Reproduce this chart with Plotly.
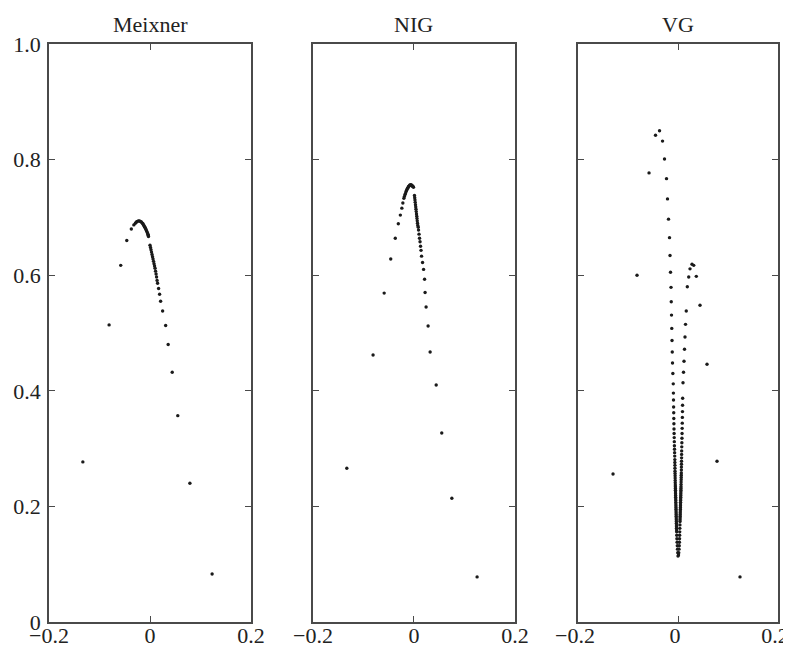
import plotly.graph_objects as go

titles = ["Meixner", "NIG", "VG"]
x_ticks = [-0.2, 0, 0.2]
x_ticktext = ["\u22120.2", "0", "0.2"]
y_ticks = [0, 0.2, 0.4, 0.6, 0.8, 1.0]
y_ticktext = ["0", "0.2", "0.4", "0.6", "0.8", "1.0"]

meixner_x = [-0.133, -0.081, -0.058, -0.046, -0.037,
             -0.032, -0.029, -0.027, -0.025, -0.023, -0.021, -0.019, -0.017, -0.015, -0.014,
             -0.013, -0.012, -0.011, -0.010, -0.009, -0.008, -0.007, -0.006, -0.005, -0.004,
             -0.0035, -0.003,
             0.000, 0.001, 0.002, 0.003, 0.004, 0.005, 0.006, 0.007, 0.008, 0.009, 0.010,
             0.011, 0.012, 0.013, 0.014, 0.015, 0.017, 0.019, 0.021, 0.025, 0.031, 0.036,
             0.044, 0.055, 0.079, 0.123]
meixner_y = [0.277, 0.514, 0.617, 0.660, 0.680,
             0.687, 0.690, 0.692, 0.693, 0.694, 0.694, 0.693, 0.692, 0.690, 0.689,
             0.687, 0.686, 0.684, 0.683, 0.681, 0.679, 0.677, 0.675, 0.673, 0.671,
             0.669, 0.667,
             0.652, 0.648, 0.644, 0.640, 0.636, 0.632, 0.628, 0.624, 0.620, 0.616, 0.612,
             0.607, 0.602, 0.597, 0.591, 0.586, 0.577, 0.567, 0.555, 0.538, 0.513, 0.480,
             0.432, 0.357, 0.240, 0.083]

nig_x = [-0.133, -0.081, -0.059, -0.046, -0.037, -0.031, -0.027, -0.024, -0.022, -0.020,
         -0.019, -0.018, -0.017, -0.016, -0.015, -0.014, -0.013, -0.012, -0.011, -0.010,
         -0.009, -0.008, -0.007, -0.006, -0.005, -0.004, -0.003, -0.002, -0.001,
         0.001, 0.0015, 0.002, 0.0025, 0.003, 0.0035, 0.004, 0.0045, 0.005, 0.0055, 0.006,
         0.0065, 0.007, 0.0075, 0.0085,
         0.009, 0.010, 0.011, 0.012, 0.013, 0.014, 0.015, 0.017, 0.019, 0.021, 0.022,
         0.024, 0.028, 0.032, 0.044, 0.055, 0.075, 0.125]
nig_y = [0.266, 0.462, 0.569, 0.628, 0.664, 0.689, 0.704, 0.716, 0.725, 0.733,
         0.736, 0.739, 0.741, 0.744, 0.746, 0.748, 0.750, 0.751, 0.753, 0.754,
         0.755, 0.756, 0.756, 0.756, 0.756, 0.755, 0.754, 0.754, 0.752,
         0.738, 0.734, 0.730, 0.726, 0.722, 0.718, 0.714, 0.710, 0.706, 0.702, 0.698,
         0.694, 0.690, 0.686, 0.683,
         0.678, 0.671, 0.664, 0.658, 0.650, 0.643, 0.633, 0.622, 0.610, 0.593, 0.570,
         0.545, 0.512, 0.467, 0.410, 0.327, 0.214, 0.078]

vg_x = [-0.130, -0.082, -0.058, -0.045, -0.037, -0.031, -0.027, -0.023, -0.021, -0.019,
        -0.017, -0.016, -0.015, -0.014, -0.0135, -0.013, -0.0125, -0.012, -0.0115, -0.011,
        -0.0103, -0.0095, -0.0092, -0.0090, -0.0088, -0.0086, -0.0084, -0.0082, -0.0080,
        -0.0078, -0.0076, -0.0074, -0.0072, -0.0070, -0.0068, -0.0066, -0.0064, -0.0063,
        -0.0062, -0.0061, -0.0060, -0.0059, -0.0058, -0.0057, -0.0056, -0.0055, -0.0054,
        -0.0053, -0.0052, -0.0051, -0.0050, -0.0049, -0.0048, -0.0047, -0.0046, -0.0045,
        -0.0044, -0.0043, -0.0042, -0.0041, -0.0040, -0.0039, -0.0038, -0.0037, -0.0036,
        -0.0035, -0.0034, -0.0033, -0.0032, -0.0031, -0.0030, -0.0029, -0.0028, -0.0027,
        -0.0025, -0.0022, -0.0018, -0.0014, -0.0010, -0.0005, 0.0000,
        0.0010, 0.0015, 0.0020, 0.0025, 0.0028, 0.0030, 0.0032, 0.0034, 0.0036, 0.0038,
        0.0040, 0.0041, 0.0042, 0.0043, 0.0044, 0.0045, 0.0046, 0.0047, 0.0048, 0.0049,
        0.0050, 0.0051, 0.0052, 0.0053, 0.0054, 0.0055, 0.0056, 0.0057, 0.0058, 0.0059,
        0.0060, 0.0061, 0.0062, 0.0063, 0.0064, 0.0065, 0.0066, 0.0067, 0.0068, 0.0069,
        0.0070, 0.0071, 0.0072, 0.0073, 0.0075, 0.0077, 0.0079, 0.0081, 0.0083, 0.0085,
        0.0087, 0.0089, 0.0091, 0.0093, 0.0100, 0.0110, 0.0120, 0.0130, 0.0140, 0.0150,
        0.0165, 0.0186, 0.0214, 0.0240, 0.0280, 0.0314, 0.0366, 0.0440, 0.0580, 0.0780,
        0.1240]
vg_y = [0.256, 0.600, 0.777, 0.842, 0.850, 0.832, 0.801, 0.767, 0.732, 0.697,
        0.665, 0.634, 0.605, 0.579, 0.554, 0.531, 0.508, 0.487, 0.467, 0.448,
        0.430, 0.412, 0.396, 0.384, 0.372, 0.362, 0.352, 0.343, 0.334,
        0.326, 0.319, 0.312, 0.305, 0.299, 0.293, 0.287, 0.281, 0.276,
        0.271, 0.266, 0.261, 0.257, 0.253, 0.249, 0.245, 0.241, 0.237,
        0.234, 0.231, 0.228, 0.225, 0.222, 0.219, 0.216, 0.213, 0.210,
        0.207, 0.204, 0.201, 0.198, 0.195, 0.192, 0.189, 0.186, 0.183,
        0.180, 0.177, 0.174, 0.171, 0.168, 0.165, 0.162, 0.159, 0.156,
        0.150, 0.144, 0.138, 0.132, 0.126, 0.120, 0.114,
        0.116, 0.120, 0.126, 0.132, 0.138, 0.144, 0.150, 0.156, 0.162, 0.168,
        0.174, 0.177, 0.180, 0.183, 0.186, 0.189, 0.192, 0.195, 0.198, 0.201,
        0.204, 0.207, 0.210, 0.213, 0.216, 0.219, 0.222, 0.225, 0.228, 0.231,
        0.234, 0.238, 0.242, 0.246, 0.250, 0.254, 0.258, 0.263, 0.268, 0.273,
        0.278, 0.284, 0.290, 0.296, 0.303, 0.310, 0.318, 0.326, 0.335, 0.344,
        0.354, 0.364, 0.375, 0.387, 0.414, 0.432, 0.451, 0.472, 0.493, 0.515,
        0.538, 0.580, 0.597, 0.611, 0.619, 0.617, 0.598, 0.548, 0.446, 0.278,
        0.078]

series = [(meixner_x, meixner_y), (nig_x, nig_y), (vg_x, vg_y)]
domains = [[0.0, 0.2771], [0.3621, 0.6392], [0.7257, 1.0]]

FONT = "Liberation Serif"
AX = "#4a4a4a"

fig = go.Figure()
for i, (xs, ys) in enumerate(series):
    k = "" if i == 0 else str(i + 1)
    fig.add_trace(go.Scatter(
        x=xs, y=ys, mode="markers",
        marker=dict(size=3.4, color="#1a1a1a", line=dict(width=0)),
        xaxis="x" + k, yaxis="y" + k, showlegend=False, hoverinfo="skip"))
    fig.layout["xaxis" + k] = dict(
        domain=domains[i], range=[-0.2, 0.2], anchor="y" + k,
        tickvals=x_ticks, ticktext=x_ticktext, ticks="inside", ticklen=6,
        tickwidth=1.4, tickcolor=AX, showline=True, linecolor=AX, linewidth=1.6,
        mirror="ticks", showgrid=False, zeroline=False, automargin=False,
        ticklabelstandoff=-7, ticklabeloverflow="allow",
        ticklabelshift=(-3 if i == 2 else 0),
        tickfont=dict(family=FONT, size=22, color="#222"))
    fig.layout["yaxis" + k] = dict(
        domain=[0, 1], range=[0, 1], anchor="x" + k,
        tickvals=y_ticks, ticktext=y_ticktext, ticks="inside", ticklen=6,
        tickwidth=1.4, tickcolor=AX, showline=True, linecolor=AX, linewidth=1.6,
        mirror="ticks", showgrid=False, zeroline=False, automargin=False,
        showticklabels=(i == 0), ticklabelstandoff=2,
        tickfont=dict(family=FONT, size=22, color="#222"))
    fig.add_annotation(
        text=titles[i], xref="paper", yref="paper",
        x=(domains[i][0] + domains[i][1]) / 2, y=1, xanchor="center",
        yanchor="middle", yshift=20, showarrow=False,
        font=dict(family=FONT, size=22, color="#222"))

# the page adds an 8px body margin, so the figure is drawn 8px smaller and offset
fig.update_layout(
    width=783, height=640,
    margin=dict(l=41, r=13, t=36, b=26, autoexpand=False),
    paper_bgcolor="white", plot_bgcolor="white",
)

fig.write_html("out.html")
